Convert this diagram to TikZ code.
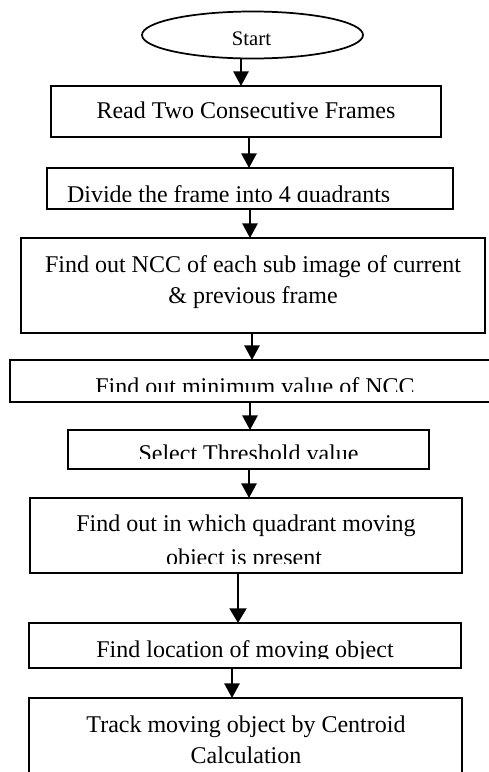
\documentclass[tikz,border=0pt]{standalone}
\usepackage{fontspec}
\setmainfont{Liberation Serif}
\usetikzlibrary{arrows.meta,shapes.geometric}

\tikzset{
  stepbox/.style 2 args={draw, line width=1.3pt, rectangle, inner sep=0pt, outer sep=0pt,
    minimum width=#1*0.75pt, minimum height=#2*0.75pt},
  startshape/.style={draw, line width=1.3pt, ellipse, inner sep=0pt, outer sep=0pt,
    minimum width=221*0.75pt, minimum height=47*0.75pt},
  label/.style={inner sep=0pt, outer sep=0pt, anchor=base, font=\fontsize{18}{22}\selectfont},
  flow/.style={line width=1.4pt, -{Triangle[length=11pt, width=11.5pt]}},
  flowthick/.style={line width=2.2pt, -{Triangle[length=11pt, width=12.5pt]}}
}

\begin{document}
\begin{tikzpicture}[x=0.75pt, y=-0.75pt]
  \useasboundingbox (0,0) rectangle (489,772);
  \clip (0,0) rectangle (489,772);
  \fill[white] (0,0) rectangle (489,772);

  % process shapes
  \node[startshape] (start) at (252.5,35) {};
  \node[stepbox={390}{51}]  (read)   at (246,111.5) {};
  \node[stepbox={406}{41}]  (divide) at (250,188.5) {};
  \node[stepbox={464}{95}]  (ncc)    at (253,285.5) {};
  \node[stepbox={485}{42}]  (minncc) at (252.5,381) {};
  \node[stepbox={361}{39}]  (thresh) at (248.5,449.5) {};
  \node[stepbox={432}{75}]  (quad)   at (246,535.5) {};
  \node[stepbox={432}{45}]  (locate) at (245,645.5) {};
  \node[stepbox={433}{102}] (track)  at (245.5,749) {};

  % texts
  \node[label, font=\fontsize{15.5}{18}\selectfont] (tstart) at (251.5,45) {Start};
  \node[label] (tread) at (246,118) {Read Two Consecutive Frames};
  \begin{scope}
    \clip (0,150) rectangle (489,201);
    \node[label, anchor=base west] (tdivide) at (67,202) {Divide the frame into 4 quadrants};
  \end{scope}
  \node[label] (tncca) at (253,272) {Find out NCC of each sub image of current};
  \node[label] (tnccb) at (253,303) {\& previous frame};
  \begin{scope}
    \clip (0,350) rectangle (489,391);
    \node[label] (tmin) at (255,394) {Find out minimum value of NCC};
  \end{scope}
  \begin{scope}
    \clip (0,420) rectangle (489,458);
    \node[label] (tthresh) at (248.5,461) {Select Threshold value};
  \end{scope}
  \node[label] (tquada) at (246,531) {Find out in which quadrant moving};
  \begin{scope}
    \clip (0,540) rectangle (489,563);
    \node[label] (tquadb) at (244,565) {object is present};
  \end{scope}
  \begin{scope}
    \clip (0,610) rectangle (489,658);
    \node[label] (tlocate) at (245,657.5) {Find location of moving object};
  \end{scope}
  \node[label] (tracka) at (246,732) {Track moving object by Centroid};
  \node[label] (trackb) at (246,763) {Calculation};

  % connector columns
  \coordinate (c1) at (241,0);
  \coordinate (c2) at (249,0);
  \coordinate (c3) at (250,0);
  \coordinate (c4) at (252,0);
  \coordinate (c5) at (250,0);
  \coordinate (c6) at (249,0);
  \coordinate (c7) at (238,0);
  \coordinate (c8) at (232,0);

  % connectors
  \draw[flow] (start.south -| c1) -- (read.north -| c1);
  \draw[flow] (read.south -| c2) -- (divide.north -| c2);
  \draw[flow] (divide.south -| c3) -- (ncc.north -| c3);
  \draw[flow] (ncc.south -| c4) -- (minncc.north -| c4);
  \draw[flow] (minncc.south -| c5) -- (thresh.north -| c5);
  \draw[flow] (thresh.south -| c6) -- (quad.north -| c6);
  \draw[flowthick] (quad.south -| c7) -- (locate.north -| c7);
  \draw[flow] (locate.south -| c8) -- (track.north -| c8);
\end{tikzpicture}
\end{document}
